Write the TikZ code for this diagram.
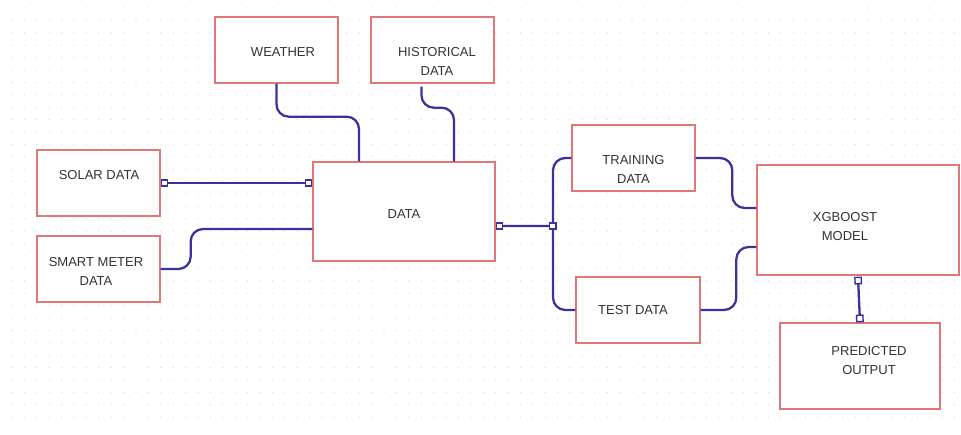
\documentclass[tikz,border=0pt]{standalone}
\usepackage{fontspec}
\setmainfont{Liberation Sans}
\usetikzlibrary{arrows.meta}
\definecolor{boxred}{HTML}{E07878}
\definecolor{conn}{HTML}{3B3399}
\definecolor{txt}{HTML}{333333}
\tikzset{
  box/.style={draw=boxred, fill=white, line width=0.8pt, minimum width=#1, inner sep=0pt},
  lbl/.style={align=center, text=txt, font=\fontsize{7.4}{10.8}\selectfont, inner sep=0pt},
  link/.style={draw=conn, line width=1.3pt, rounded corners=7},
  sq/.tip={Square[fill=white, length=4.4pt, width=4.4pt, line width=0.8pt]},
}
\begin{document}
\begin{tikzpicture}[x=0.02cm, y=-0.02cm]
\useasboundingbox (0,0) rectangle (961,435);
% dotted grid background
\foreach \gx in {12,24.4,...,955} {
  \foreach \gy in {8,20.4,...,422} {
    \fill[black!15] (\gx,\gy) circle (0.65);
  }
}
% boxes
\node[box=2.46cm, minimum height=1.32cm] (weather) at (276.5,50) {};
\node[box=2.46cm, minimum height=1.32cm] (hist) at (432.5,50) {};
\node[box=2.46cm, minimum height=1.32cm] (solar) at (98.5,183) {};
\node[box=2.46cm, minimum height=1.32cm] (smart) at (98.5,269) {};
\node[box=3.64cm, minimum height=1.98cm] (data) at (404,211.5) {};
\node[box=2.46cm, minimum height=1.32cm] (train) at (633.5,158) {};
\node[box=2.48cm, minimum height=1.32cm] (test) at (638,310) {};
\node[box=4.04cm, minimum height=2.2cm] (xgb) at (858,220) {};
\node[box=3.2cm, minimum height=1.72cm] (pred) at (860,366) {};
% labels
\node[lbl] (tweather) at ([shift={(6.5,2)}]weather.center) {WEATHER};
\node[lbl] (thist) at ([shift={(4.5,11.5)}]hist.center) {HISTORICAL\\DATA};
\node[lbl] (tsolar) at ([shift={(0.5,-8)}]solar.center) {SOLAR DATA};
\node[lbl] (tsmart) at ([shift={(-2.5,2.5)}]smart.center) {SMART METER\\DATA};
\node[lbl] (tdata) at ([shift={(0,2.5)}]data.center) {DATA};
\node[lbl] (ttrain) at ([shift={(0,11.5)}]train.center) {TRAINING\\DATA};
\node[lbl] (ttest) at ([shift={(-5,0)}]test.center) {TEST DATA};
\node[lbl] (txgb) at ([shift={(-13,7)}]xgb.center) {XGBOOST\\MODEL};
\node[lbl] (tpred) at ([shift={(9,-5.5)}]pred.center) {PREDICTED\\OUTPUT};
% connectors
\coordinate (j) at (553,226);
\draw[link] (weather.south) -- ++(0,33) -| ([shift={(-45,0)}]data.north);
\draw[link] ([shift={(-11,3)}]hist.south) -- ++(0,21) -| ([shift={(50,0)}]data.north);
\draw[link] (smart.east) -- ++(30,0) |- ([shift={(0,17.5)}]data.west);
\draw[link] (j) |- (train.west);
\draw[link] (j) |- (test.west);
\draw[link] (train.east) -| ([shift={(-24,-12)}]xgb.west) -- ([shift={(0,-12)}]xgb.west);
\draw[link] (test.east) -| ([shift={(-20,27)}]xgb.west) -- ([shift={(0,27)}]xgb.west);
\draw[link, sq-sq] (solar.east) -- ([shift={(0,-28.5)}]data.west);
\draw[link, sq-sq] ([shift={(0,14.5)}]data.east) -- ([shift={(3.5,0)}]j);
\draw[link, sq-sq] ([shift={(0,1)}]xgb.south) -- (pred.north);
\end{tikzpicture}
\end{document}
